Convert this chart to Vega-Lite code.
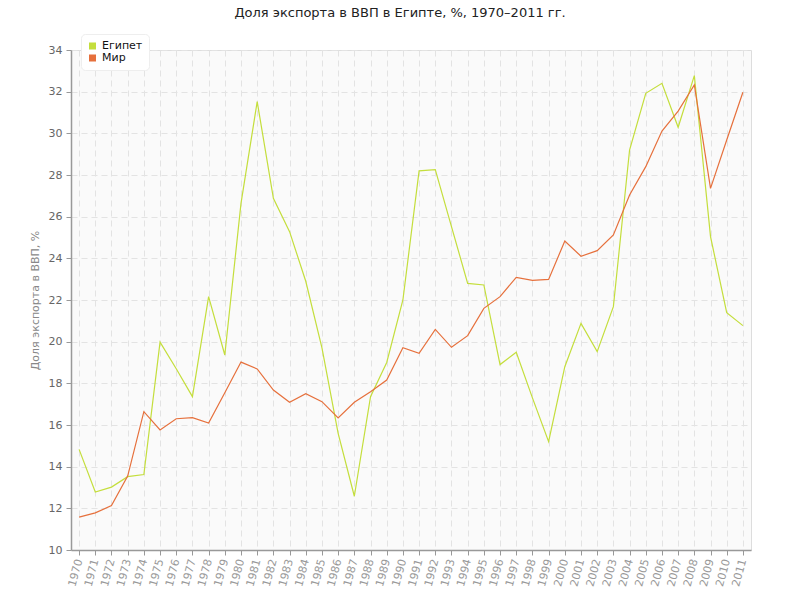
{
  "$schema": "https://vega.github.io/schema/vega-lite/v6.json",
  "width": 680,
  "height": 500,
  "autosize": {"type": "none"},
  "padding": {"left": 71, "top": 50, "right": 49, "bottom": 50},
  "background": "white",
  "title": {
    "text": "Доля экспорта в ВВП в Египте, %, 1970–2011 гг.",
    "font": "DejaVu Sans",
    "fontSize": 13,
    "fontWeight": "normal",
    "color": "#222222",
    "anchor": "middle",
    "dx": -11,
    "offset": 14
  },
  "config": {
    "font": "DejaVu Sans",
    "view": {"fill": "#fafafa", "stroke": "#dddddd", "strokeWidth": 1}
  },
  "data": {
    "values": [
      {"year": "1970", "country": "Египет", "value": 14.83},
      {"year": "1971", "country": "Египет", "value": 12.78},
      {"year": "1972", "country": "Египет", "value": 13.02},
      {"year": "1973", "country": "Египет", "value": 13.52},
      {"year": "1974", "country": "Египет", "value": 13.62},
      {"year": "1975", "country": "Египет", "value": 19.98},
      {"year": "1976", "country": "Египет", "value": 18.7},
      {"year": "1977", "country": "Египет", "value": 17.36},
      {"year": "1978", "country": "Египет", "value": 22.16},
      {"year": "1979", "country": "Египет", "value": 19.36},
      {"year": "1980", "country": "Египет", "value": 26.64},
      {"year": "1981", "country": "Египет", "value": 31.52},
      {"year": "1982", "country": "Египет", "value": 26.88},
      {"year": "1983", "country": "Египет", "value": 25.28},
      {"year": "1984", "country": "Египет", "value": 22.9},
      {"year": "1985", "country": "Египет", "value": 19.7},
      {"year": "1986", "country": "Египет", "value": 15.6},
      {"year": "1987", "country": "Египет", "value": 12.58},
      {"year": "1988", "country": "Египет", "value": 17.36},
      {"year": "1989", "country": "Египет", "value": 19.0},
      {"year": "1990", "country": "Египет", "value": 22.0},
      {"year": "1991", "country": "Египет", "value": 28.2},
      {"year": "1992", "country": "Египет", "value": 28.26},
      {"year": "1993", "country": "Египет", "value": 25.52},
      {"year": "1994", "country": "Египет", "value": 22.8},
      {"year": "1995", "country": "Египет", "value": 22.72},
      {"year": "1996", "country": "Египет", "value": 18.9},
      {"year": "1997", "country": "Египет", "value": 19.49},
      {"year": "1998", "country": "Египет", "value": 17.3},
      {"year": "1999", "country": "Египет", "value": 15.2},
      {"year": "2000", "country": "Египет", "value": 18.8},
      {"year": "2001", "country": "Египет", "value": 20.88},
      {"year": "2002", "country": "Египет", "value": 19.52},
      {"year": "2003", "country": "Египет", "value": 21.68},
      {"year": "2004", "country": "Египет", "value": 29.2},
      {"year": "2005", "country": "Египет", "value": 31.92},
      {"year": "2006", "country": "Египет", "value": 32.4},
      {"year": "2007", "country": "Египет", "value": 30.29},
      {"year": "2008", "country": "Египет", "value": 32.77},
      {"year": "2009", "country": "Египет", "value": 25.04},
      {"year": "2010", "country": "Египет", "value": 21.39},
      {"year": "2011", "country": "Египет", "value": 20.77},
      {"year": "1970", "country": "Мир", "value": 11.58},
      {"year": "1971", "country": "Мир", "value": 11.78},
      {"year": "1972", "country": "Мир", "value": 12.13},
      {"year": "1973", "country": "Мир", "value": 13.55},
      {"year": "1974", "country": "Мир", "value": 16.64},
      {"year": "1975", "country": "Мир", "value": 15.76},
      {"year": "1976", "country": "Мир", "value": 16.3},
      {"year": "1977", "country": "Мир", "value": 16.35},
      {"year": "1978", "country": "Мир", "value": 16.09},
      {"year": "1979", "country": "Мир", "value": 17.55},
      {"year": "1980", "country": "Мир", "value": 19.02},
      {"year": "1981", "country": "Мир", "value": 18.69},
      {"year": "1982", "country": "Мир", "value": 17.68},
      {"year": "1983", "country": "Мир", "value": 17.09},
      {"year": "1984", "country": "Мир", "value": 17.5},
      {"year": "1985", "country": "Мир", "value": 17.12},
      {"year": "1986", "country": "Мир", "value": 16.34},
      {"year": "1987", "country": "Мир", "value": 17.09},
      {"year": "1988", "country": "Мир", "value": 17.6},
      {"year": "1989", "country": "Мир", "value": 18.16},
      {"year": "1990", "country": "Мир", "value": 19.71},
      {"year": "1991", "country": "Мир", "value": 19.44},
      {"year": "1992", "country": "Мир", "value": 20.59},
      {"year": "1993", "country": "Мир", "value": 19.73},
      {"year": "1994", "country": "Мир", "value": 20.29},
      {"year": "1995", "country": "Мир", "value": 21.6},
      {"year": "1996", "country": "Мир", "value": 22.16},
      {"year": "1997", "country": "Мир", "value": 23.09},
      {"year": "1998", "country": "Мир", "value": 22.94},
      {"year": "1999", "country": "Мир", "value": 22.99},
      {"year": "2000", "country": "Мир", "value": 24.83},
      {"year": "2001", "country": "Мир", "value": 24.1},
      {"year": "2002", "country": "Мир", "value": 24.37},
      {"year": "2003", "country": "Мир", "value": 25.12},
      {"year": "2004", "country": "Мир", "value": 27.04},
      {"year": "2005", "country": "Мир", "value": 28.4},
      {"year": "2006", "country": "Мир", "value": 30.11},
      {"year": "2007", "country": "Мир", "value": 31.07},
      {"year": "2008", "country": "Мир", "value": 32.32},
      {"year": "2009", "country": "Мир", "value": 27.36},
      {"year": "2010", "country": "Мир", "value": 29.68},
      {"year": "2011", "country": "Мир", "value": 31.97}
    ]
  },
  "mark": {"type": "line", "strokeWidth": 1.2, "interpolate": "linear"},
  "encoding": {
    "x": {
      "field": "year",
      "type": "ordinal",
      "scale": {"type": "point", "padding": 0.5},
      "axis": {
        "title": null,
        "labelAngle": -75,
        "labelAlign": "right",
        "labelBaseline": "middle",
        "labelFontSize": 11,
        "labelColor": "#999999",
        "labelPadding": 4,
        "domainColor": "#999999",
        "domainWidth": 1.5,
        "tickColor": "#999999",
        "tickSize": 5,
        "grid": true,
        "gridColor": "#e3e3e3",
        "gridDash": [6, 4],
        "gridWidth": 1
      }
    },
    "y": {
      "field": "value",
      "type": "quantitative",
      "scale": {"domain": [10, 34], "nice": false, "zero": false},
      "axis": {
        "title": "Доля экспорта в ВВП, %",
        "titleFontSize": 11,
        "titleFontWeight": "normal",
        "titleColor": "#888888",
        "titlePadding": 8,
        "values": [10, 12, 14, 16, 18, 20, 22, 24, 26, 28, 30, 32, 34],
        "labelFontSize": 11,
        "labelColor": "#666666",
        "labelPadding": 4,
        "domainColor": "#999999",
        "domainWidth": 1.5,
        "tickColor": "#999999",
        "tickSize": 5,
        "grid": true,
        "gridColor": "#e3e3e3",
        "gridDash": [6, 4],
        "gridWidth": 1
      }
    },
    "color": {
      "field": "country",
      "type": "nominal",
      "sort": ["Египет", "Мир"],
      "scale": {"domain": ["Египет", "Мир"], "range": ["#c4de3c", "#e6703c"]},
      "legend": {
        "title": null,
        "orient": "none",
        "legendX": 10,
        "legendY": -16,
        "symbolType": "square",
        "symbolSize": 9,
        "symbolStrokeWidth": 4,
        "clipHeight": 12,
        "labelFontSize": 11,
        "labelColor": "#111111",
        "rowPadding": 0,
        "fillColor": "white",
        "padding": 6,
        "cornerRadius": 4,
        "strokeColor": "#eeeeee"
      }
    }
  }
}
